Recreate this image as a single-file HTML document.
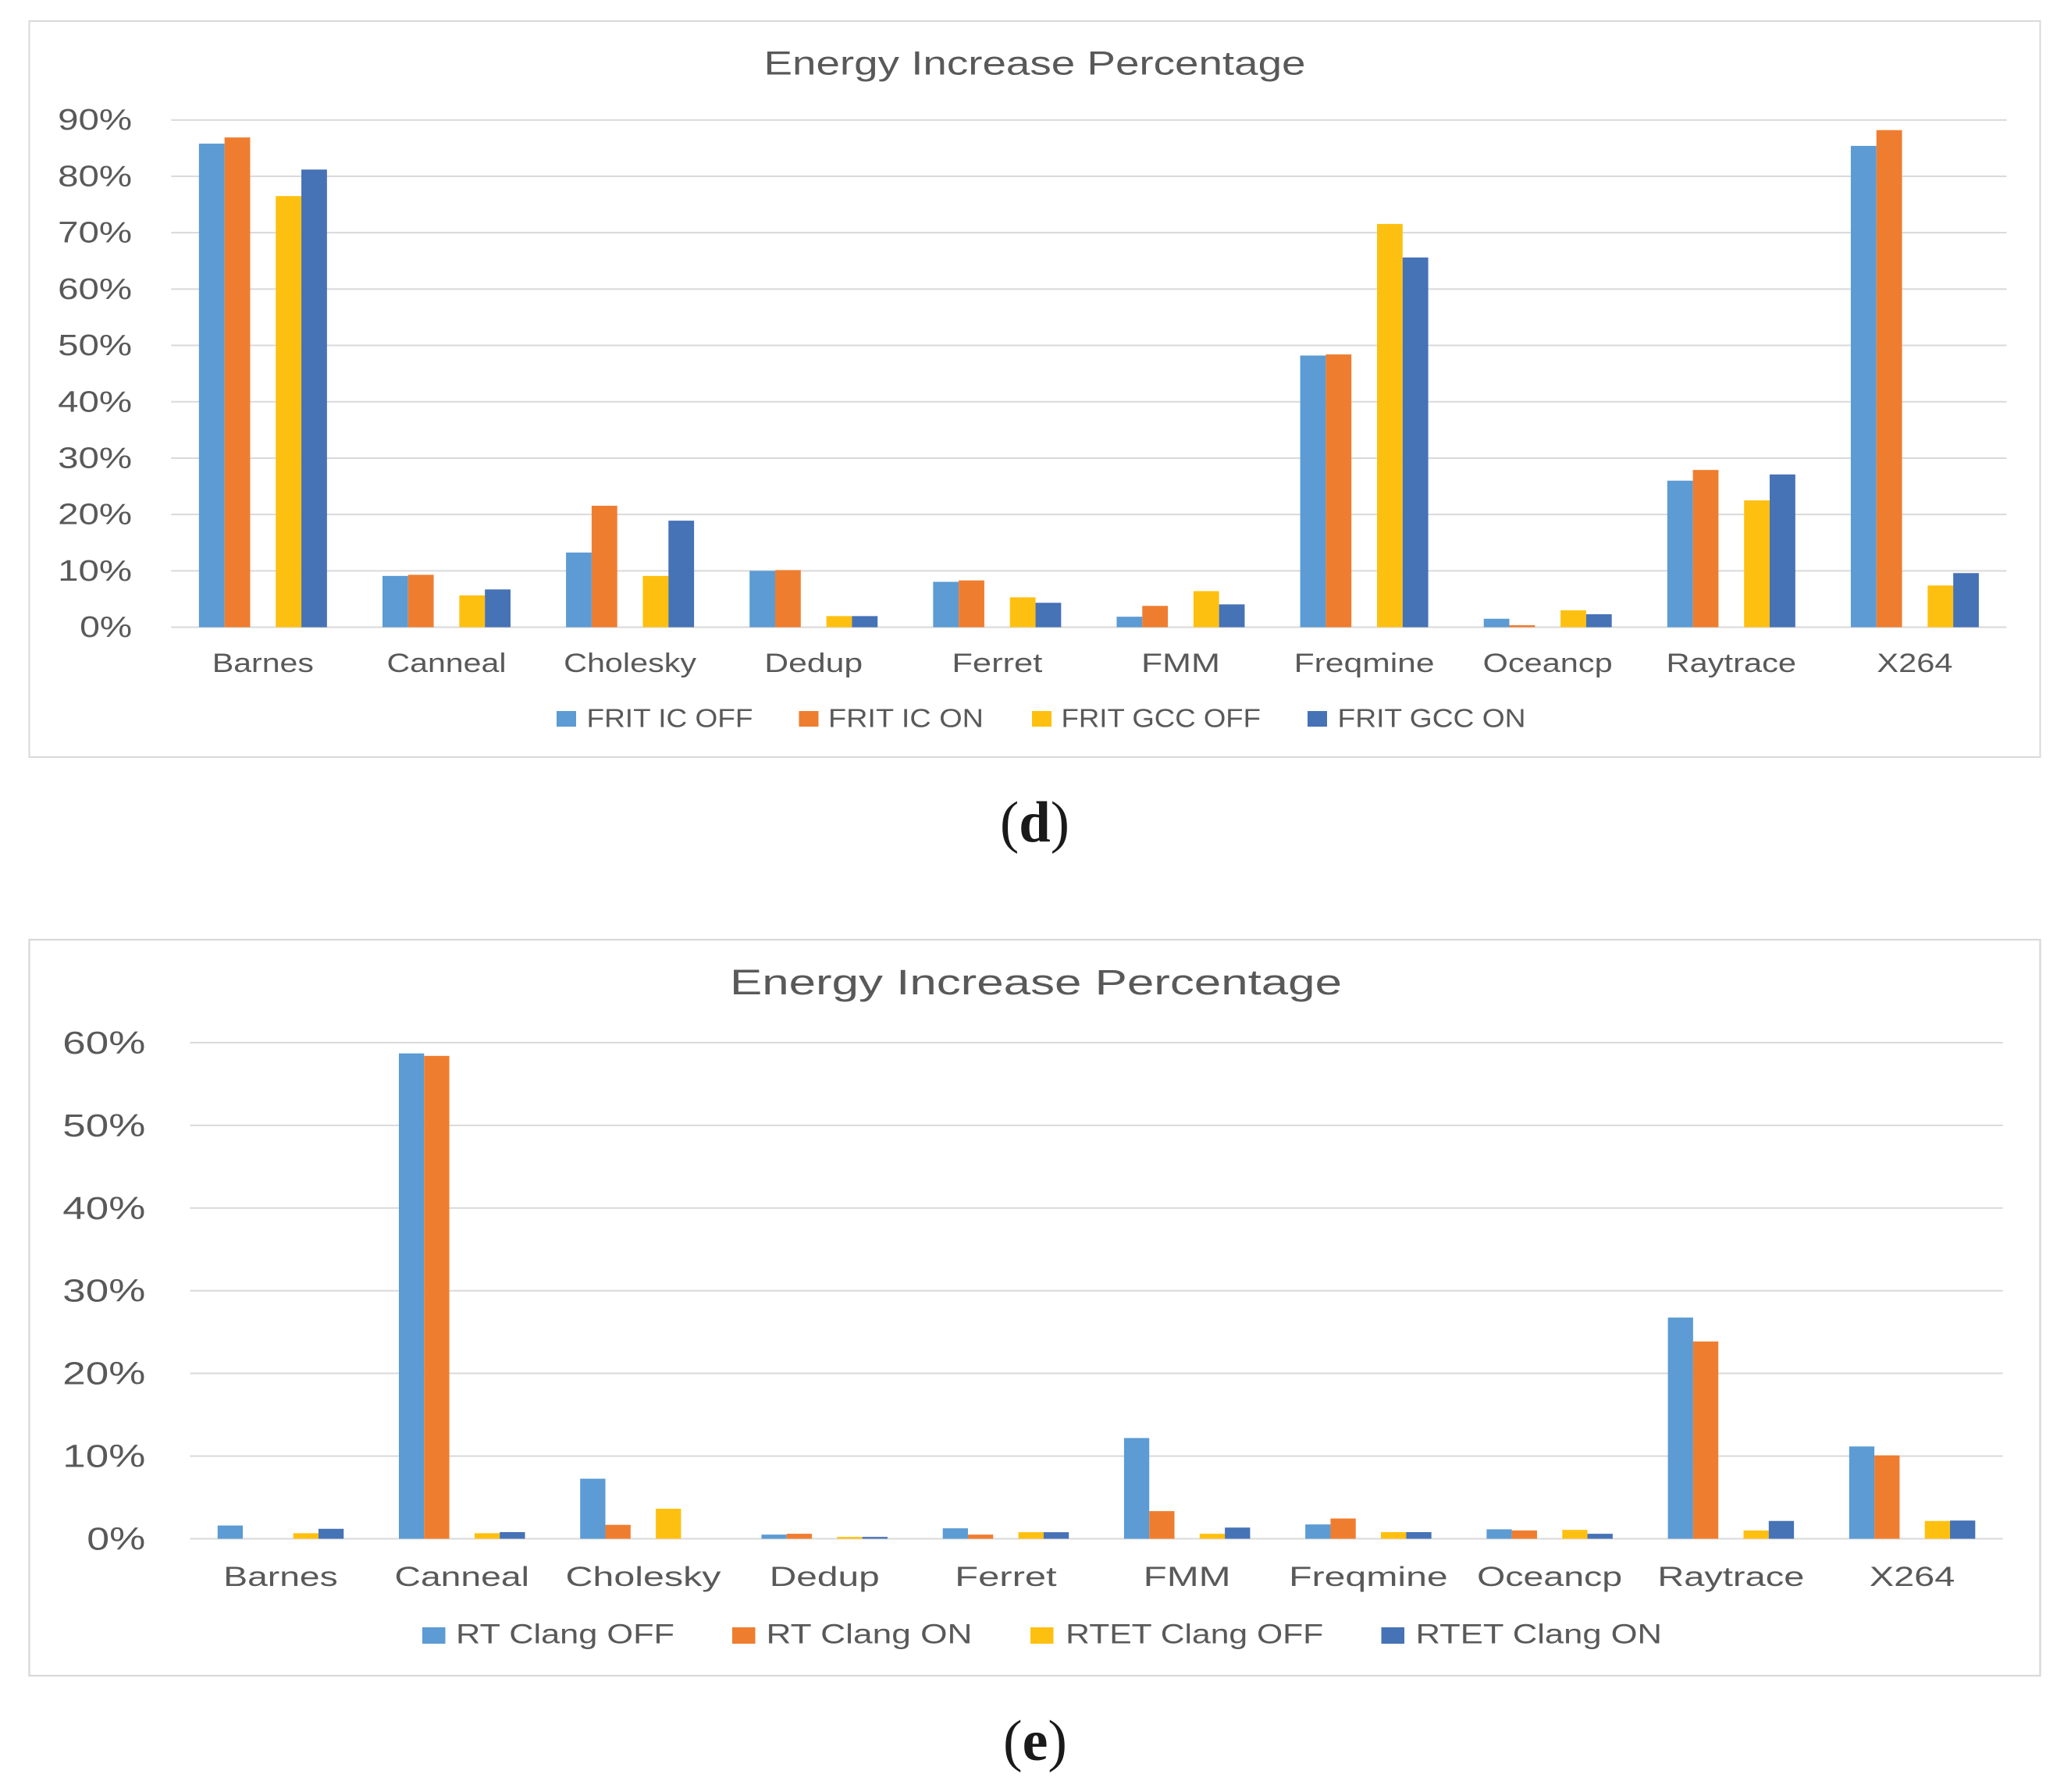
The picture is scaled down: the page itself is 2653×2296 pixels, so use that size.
<!DOCTYPE html>
<html lang="en">
<head>
<meta charset="utf-8">
<title>Energy Increase Percentage</title>
<style>
html,body{margin:0;padding:0;background:#fff;}
svg{display:block;}
text{font-family:"Liberation Sans",sans-serif;fill:#595959;}
.caption{font-family:"Liberation Serif",serif;font-weight:bold;fill:#1a1a1a;}
.paren{font-weight:normal;}
</style>
</head>
<body>
<svg id="figure" xmlns="http://www.w3.org/2000/svg" width="2653" height="2296" viewBox="0 0 2653 2296">
  <rect x="0" y="0" width="2653" height="2296" fill="#ffffff"/>
  <g id="chart-d">
    <rect x="37.5" y="27" width="2576" height="943" fill="#ffffff" stroke="#d9d9d9" stroke-width="2"/>
    <text x="978.5" y="95.7" font-size="43" textLength="694" lengthAdjust="spacingAndGlyphs">Energy Increase Percentage</text>
  </g>
  <text class="caption" x="1281" y="1078" font-size="74" textLength="89" lengthAdjust="spacingAndGlyphs"><tspan class="paren">(</tspan>d<tspan class="paren">)</tspan></text>
  <g id="chart-e">
    <rect x="37.5" y="1204" width="2576" height="943" fill="#ffffff" stroke="#d9d9d9" stroke-width="2.4"/>
    <text x="935" y="1274" font-size="45" textLength="784" lengthAdjust="spacingAndGlyphs">Energy Increase Percentage</text>
  </g>
  <text class="caption" x="1285" y="2255" font-size="74" textLength="82" lengthAdjust="spacingAndGlyphs"><tspan class="paren">(</tspan>e<tspan class="paren">)</tspan></text>
</svg>
<script>
// Chart (d) data
const categoriesD = ["Barnes","Canneal","Cholesky","Dedup","Ferret","FMM","Freqmine","Oceancp","Raytrace","X264"];
const seriesNamesD = ["FRIT IC OFF","FRIT IC ON","FRIT GCC OFF","FRIT GCC ON"];
const fritIcOff  = [85.8, 9.1, 13.25, 10.0, 8.05, 1.86, 48.2, 1.5, 26.0, 85.4];
const fritIcOn   = [86.9, 9.3, 21.55, 10.13, 8.3, 3.78, 48.4, 0.35, 27.9, 88.2];
const fritGccOff = [76.5, 5.65, 9.1, 1.97, 5.3, 6.4, 71.55, 3.0, 22.5, 7.4];
const fritGccOn  = [81.2, 6.7, 18.9, 1.97, 4.33, 4.05, 65.6, 2.3, 27.1, 9.6];
const ticksD = [0,10,20,30,40,50,60,70,80,90];

// Chart (e) data
const categoriesE = ["Barnes","Canneal","Cholesky","Dedup","Ferret","FMM","Freqmine","Oceancp","Raytrace","X264"];
const seriesNamesE = ["RT Clang OFF","RT Clang ON","RTET Clang OFF","RTET Clang ON"];
const rtClangOff   = [1.6, 58.7, 7.26, 0.5, 1.26, 12.18, 1.73, 1.14, 26.75, 11.16];
const rtClangOn    = [0, 58.4, 1.68, 0.6, 0.5, 3.34, 2.45, 1.0, 23.86, 10.08];
const rtetClangOff = [0.67, 0.67, 3.63, 0.22, 0.79, 0.6, 0.8, 1.07, 1.0, 2.15];
const rtetClangOn  = [1.2, 0.8, 0, 0.22, 0.79, 1.35, 0.8, 0.6, 2.15, 2.2];
const ticksE = [0,10,20,30,40,50,60];

const seriesColors = ["#5C9BD3","#EF7D2F","#FEC010","#4672B6"];
const seriesSlots = [0,1,3,4];

const layoutD = {
  group: "chart-d", key: "d",
  left: 219.3, right: 2570.5, y0: 803.6, yTop: 153.7, tickMax: 90, slot: 32.8,
  tickRight: 167.6, tickSize: 38, tickBase: 12.5, tickWide: 92, tickNarrow: 64,
  catBase: 861, catSize: 34,
  catFit: {Barnes:127,Canneal:150,Cholesky:167,Dedup:123,Ferret:113,FMM:98,Freqmine:177,Oceancp:163,Raytrace:163.5,X264:94},
  legendBase: 931.5, legendSize: 33, swatchTop: 911, swatchH: 20, swatchW: 25,
  legendSwatchX: [713,1023.5,1322,1675],
  legendTextX: [753,1062.5,1361,1715],
  legendFit: [210,196,252.5,238]
};
const layoutE = {
  group: "chart-e", key: "e",
  left: 243.4, right: 2565.7, y0: 1971.5, yTop: 1335.9, tickMax: 60, slot: 32.3,
  tickRight: 184.8, tickSize: 41, tickBase: 14, tickWide: 103, tickNarrow: 72,
  catBase: 2032, catSize: 35,
  catFit: {Barnes:143.5,Canneal:169.4,Cholesky:196,Dedup:138,Ferret:127.4,FMM:109,Freqmine:200.6,Oceancp:183,Raytrace:185,X264:106.4},
  legendBase: 2105.5, legendSize: 35, swatchTop: 2085, swatchH: 21, swatchW: 29.5,
  legendSwatchX: [541,938,1320,1769.5],
  legendTextX: [585.5,983,1366.7,1815],
  legendFit: [277,261,327,312.5]
};

const NS = "http://www.w3.org/2000/svg";

function addText(parent, name, str, x, y, size, width) {
  const el = document.createElementNS(NS, "text");
  
  
  el.setAttribute("x", x - 1.5);
  el.setAttribute("y", y);
  el.setAttribute("font-size", size);
  el.setAttribute("textLength", width + 3);
  el.setAttribute("lengthAdjust", "spacingAndGlyphs");
  el.textContent = str;
  parent.appendChild(el);
  return el;
}

function drawChart(L, categories, seriesNames, seriesValues, ticks) {
  const g = document.getElementById(L.group);
  const yScale = v => L.y0 - (v / L.tickMax) * (L.y0 - L.yTop);
  const catW = (L.right - L.left) / categories.length;
  const catCenter = i => L.left + catW * (i + 0.5);
  const xScale = (i, s) => catCenter(i) - 2.5 * L.slot + seriesSlots[s] * L.slot;

  ticks.forEach(t => {
    const line = document.createElementNS(NS, "line");
    
    
    line.setAttribute("x1", L.left);
    line.setAttribute("x2", L.right);
    line.setAttribute("y1", yScale(t));
    line.setAttribute("y2", yScale(t));
    line.setAttribute("stroke", "#d9d9d9");
    line.setAttribute("stroke-width", "2");
    g.appendChild(line);
    const w = t === 0 ? L.tickNarrow : L.tickWide;
    addText(g, L.key + '-y-tick-' + t, t + "%", L.tickRight - w, yScale(t) + L.tickBase, L.tickSize, w);
  });

  seriesValues.forEach((vals, s) => {
    vals.forEach((v, i) => {
      const r = document.createElementNS(NS, "rect");
      
      
      r.setAttribute("x", xScale(i, s));
      r.setAttribute("y", yScale(v));
      r.setAttribute("width", L.slot);
      r.setAttribute("height", Math.max(0, L.y0 - yScale(v)));
      r.setAttribute("fill", seriesColors[s]);
      g.appendChild(r);
    });
  });

  categories.forEach((c, i) => {
    const w = L.catFit[c];
    addText(g, L.key + '-x-label-' + c.toLowerCase(), c, catCenter(i) - w / 2, L.catBase, L.catSize, w);
  });

  seriesNames.forEach((n, s) => {
    const sw = document.createElementNS(NS, "rect");
    
    
    sw.setAttribute("x", L.legendSwatchX[s]);
    sw.setAttribute("y", L.swatchTop);
    sw.setAttribute("width", L.swatchW);
    sw.setAttribute("height", L.swatchH);
    sw.setAttribute("fill", seriesColors[s]);
    g.appendChild(sw);
    addText(g, L.key + '-legend-label-' + (s + 1), n, L.legendTextX[s], L.legendBase, L.legendSize, L.legendFit[s]);
  });
}

drawChart(layoutD, categoriesD, seriesNamesD, [fritIcOff, fritIcOn, fritGccOff, fritGccOn], ticksD);
drawChart(layoutE, categoriesE, seriesNamesE, [rtClangOff, rtClangOn, rtetClangOff, rtetClangOn], ticksE);
</script>
</body>
</html>
